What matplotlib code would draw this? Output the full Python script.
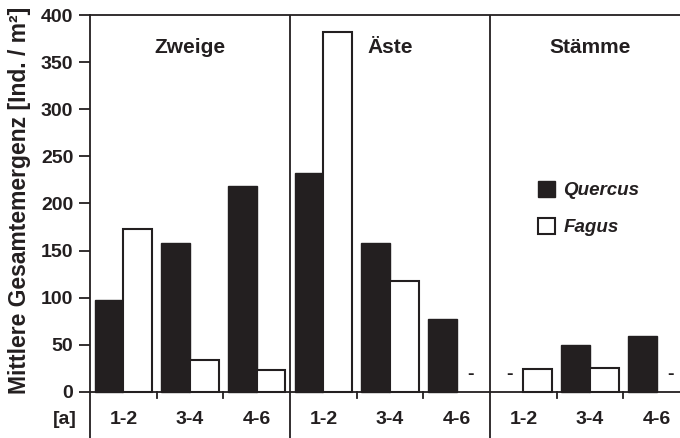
import numpy as np
import matplotlib
matplotlib.use("Agg")
import matplotlib.pyplot as plt
from matplotlib.patches import Patch

# Daten
gruppen = ["Zweige", "Äste", "Stämme"]
alter = ["1-2", "3-4", "4-6"]
quercus = [97, 158, 218, 232, 158, 77, np.nan, 50, 59]
fagus = [173, 34, 23, 382, 118, np.nan, 24, 25, np.nan]

plt.rcParams["font.family"] = ["Liberation Sans", "DejaVu Sans"]
plt.rcParams["font.weight"] = "bold"
FS = 14
DUNKEL = "#231f20"

fig = plt.figure(figsize=(6.8, 4.38), dpi=100)
ax = fig.add_axes([90 / 680, 0, 590 / 680, 423 / 438])
ax.set_xlim(0, 590 / (200 / 3))
ax.set_ylim(-49, 400)

x = np.arange(9) + 0.5
w = 0.43
ax.bar(x - w / 2, quercus, w, color=DUNKEL, edgecolor=DUNKEL, linewidth=1.0, zorder=3)
ax.bar(x + w / 2, fagus, w, color="white", edgecolor=DUNKEL, linewidth=1.5, zorder=3)

# fehlende Werte als Strich
for xi, q, f in zip(x, quercus, fagus):
    if np.isnan(q):
        ax.text(xi - w / 2, 18, "-", ha="center", va="center", fontsize=FS, color=DUNKEL)
    if np.isnan(f):
        ax.text(xi + w / 2, 18, "-", ha="center", va="center", fontsize=FS, color=DUNKEL)

# Rahmen und Trennlinien
for s in ["right", "bottom"]:
    ax.spines[s].set_visible(False)
for s in ["left", "top"]:
    ax.spines[s].set_linewidth(1.3)
    ax.spines[s].set_color(DUNKEL)
ax.axhline(0, color=DUNKEL, lw=1.3, zorder=4)
for d in [3, 6]:
    ax.axvline(d, color=DUNKEL, lw=1.3, zorder=4)
for t in [1, 2, 4, 5, 7, 8]:
    ax.plot([t, t], [0, -6.5], color=DUNKEL, lw=1.3, zorder=4)

ax.set_yticks(np.arange(0, 401, 50))
ax.set_xticks([])
ax.tick_params(axis="y", direction="out", length=8, width=1.3, pad=4,
               labelsize=FS, color=DUNKEL, labelcolor=DUNKEL)
for lab in ax.get_yticklabels():
    lab.set_fontweight("bold")

# Achsenbeschriftungen unten
for xi, lab in zip(x, alter * 3):
    ax.text(xi, -29, lab, ha="center", va="center", fontsize=FS, color=DUNKEL)
ax.text(-0.375, -29, "[a]", ha="center", va="center", fontsize=FS, color=DUNKEL, clip_on=False)

for i, g in enumerate(gruppen):
    ax.text(1.5 + 3 * i, 365, g, ha="center", va="center", fontsize=15, color=DUNKEL)

fig.text(20 / 680, 1 - 200 / 438, "Mittlere Gesamtemergenz [Ind. / m²]", rotation=90,
         ha="center", va="center", fontsize=16.5, color=DUNKEL)

handles = [Patch(facecolor=DUNKEL, edgecolor=DUNKEL, label="Quercus"),
           Patch(facecolor="white", edgecolor=DUNKEL, linewidth=1.5, label="Fagus")]
leg = ax.legend(handles=handles, loc="upper left", bbox_to_anchor=(538 / 680, 1 - 181 / 438),
                bbox_transform=fig.transFigure, frameon=False, fontsize=13.5,
                handlelength=0.9, handleheight=0.9, handletextpad=0.45,
                labelspacing=1.0, borderpad=0, borderaxespad=0)
for t in leg.get_texts():
    t.set_fontstyle("italic")
    t.set_fontweight("bold")
    t.set_color(DUNKEL)

fig.savefig("out.png", dpi=100)
